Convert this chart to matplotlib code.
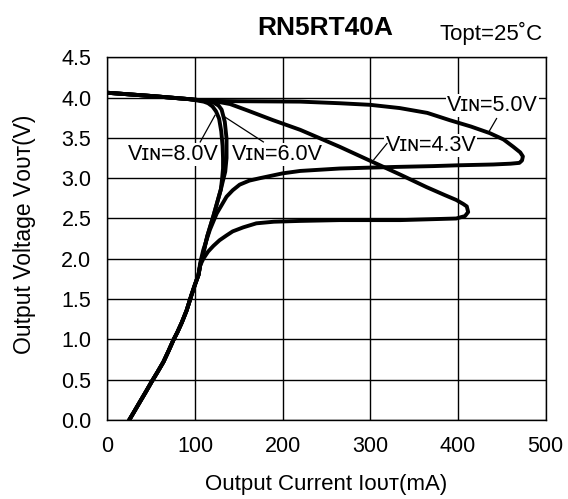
import matplotlib
matplotlib.use("Agg")
import matplotlib.pyplot as plt

plt.rcParams['font.family'] = ['Liberation Sans', 'DejaVu Sans']

# VIN = 8.0V
i_80 = [0, 50, 94, 110, 115, 120, 124, 127.5, 130, 131.5, 132, 132, 131, 129.5,
        121, 114, 109.5, 106, 104, 100, 96, 90.5, 85, 80, 75.3, 70, 64, 57, 50.6, 44, 37.3, 31, 25]
v_80 = [4.06, 4.02, 3.98, 3.95, 3.93, 3.89, 3.83, 3.74, 3.58, 3.40, 3.25, 3.12, 3.0, 2.86,
        2.53, 2.28, 2.07, 1.92, 1.8, 1.68, 1.55, 1.36, 1.21, 1.09, 0.99, 0.86, 0.72, 0.59, 0.475, 0.35, 0.227, 0.11, 0.0]

# VIN = 6.0V
i_60 = [0, 50, 94, 113, 121, 127, 130.4, 134, 136, 136, 134.5, 131.5, 129.5,
        121, 114, 109.5, 106, 104, 100, 96, 90.5, 85, 80, 75.3, 70, 64, 57, 50.6, 44, 37.3, 31, 25]
v_60 = [4.06, 4.02, 3.98, 3.96, 3.94, 3.9, 3.85, 3.70, 3.49, 3.25, 3.08, 2.95, 2.86,
        2.53, 2.28, 2.07, 1.92, 1.8, 1.68, 1.55, 1.36, 1.21, 1.09, 0.99, 0.86, 0.72, 0.59, 0.475, 0.35, 0.227, 0.11, 0.0]

# VIN = 5.0V
i_50 = [0, 50, 94, 113, 150, 220, 265, 300, 333.5, 365, 390.5, 415, 436, 452, 463, 471,
        474, 473, 470, 460, 440, 400, 371.7, 330, 295.8, 265, 220, 200, 174, 162, 151,
        143, 136, 124.7, 117, 109.5, 106, 104, 100, 96, 90.5, 85, 80, 75.3, 70, 64, 57, 50.6, 44, 37.3, 31, 25]
v_50 = [4.06, 4.02, 3.98, 3.96, 3.955, 3.95, 3.93, 3.91, 3.87, 3.81, 3.72, 3.64, 3.56, 3.48, 3.39, 3.32,
        3.27, 3.22, 3.19, 3.18, 3.17, 3.16, 3.15, 3.14, 3.13, 3.12, 3.09, 3.06, 3.0, 2.97, 2.92,
        2.85, 2.77, 2.56, 2.36, 2.11, 1.95, 1.8, 1.68, 1.55, 1.36, 1.21, 1.09, 0.99, 0.86, 0.72, 0.59, 0.475, 0.35, 0.227, 0.11, 0.0]

# VIN = 4.3V
i_43 = [0, 50, 94, 113, 125, 140, 160, 189, 220, 265, 303, 335, 364, 385, 398, 406, 410,
        411.6, 408, 398, 334, 265, 220, 190, 170, 155, 143, 136, 128, 121, 115, 109.5, 106,
        104, 100, 96, 90.5, 85, 80, 75.3, 70, 64, 57, 50.6, 44, 37.3, 31, 25]
v_43 = [4.06, 4.02, 3.98, 3.96, 3.95, 3.92, 3.84, 3.72, 3.60, 3.39, 3.20, 3.04, 2.89, 2.79, 2.73, 2.68, 2.65,
        2.58, 2.53, 2.50, 2.48, 2.48, 2.47, 2.46, 2.44, 2.39, 2.34, 2.29, 2.23, 2.16, 2.09, 2.0, 1.92,
        1.8, 1.68, 1.55, 1.36, 1.21, 1.09, 0.99, 0.86, 0.72, 0.59, 0.475, 0.35, 0.227, 0.11, 0.0]

x_ticks = [0, 100, 200, 300, 400, 500]
y_ticks = [0.0, 0.5, 1.0, 1.5, 2.0, 2.5, 3.0, 3.5, 4.0, 4.5]

fig = plt.figure(figsize=(5.68, 4.99), dpi=100)
ax = fig.add_axes([0.1889, 0.1583, 0.7718, 0.7269])

for xs, ys in [(i_80, v_80), (i_60, v_60), (i_50, v_50), (i_43, v_43)]:
    ax.plot(xs, ys, color='black', lw=2.8, solid_joinstyle='round', solid_capstyle='round', zorder=3)

# labels with leader lines: text, text position, leader start, leader end
labels = [
    ("V\u026a\u0274=8.0V", (75, 3.29), (106, 3.45), (122.8, 3.78)),
    ("V\u026a\u0274=6.0V", (194, 3.29), (178, 3.45), (134, 3.76)),
    ("V\u026a\u0274=5.0V", (439, 3.90), (444, 3.74), (434.4, 3.56)),
    ("V\u026a\u0274=4.3V", (369, 3.41), (319, 3.43), (304, 3.23)),
]
for txt, pos, p0, p1 in labels:
    ax.text(pos[0], pos[1], txt, ha='center', va='center', fontsize=15.5, zorder=4,
            bbox=dict(facecolor='white', edgecolor='none', pad=0.8))
    ax.plot([p0[0], p1[0]], [p0[1], p1[1]], color='black', lw=0.9, zorder=4)

ax.set_xlim(0, 500)
ax.set_ylim(0, 4.5)
ax.set_xticks(x_ticks)
ax.set_yticks(y_ticks)
ax.set_xticklabels([str(v) for v in x_ticks])
ax.set_yticklabels(['%.1f' % v for v in y_ticks])
ax.tick_params(length=0, labelsize=15.5, pad=11.5)
ax.grid(True, color='black', lw=1.0, zorder=1)
ax.set_axisbelow(True)
for s in ax.spines.values():
    s.set_linewidth(1.0)

fig.text(0.575, 0.018, "Output Current I\u1d0f\u1d1c\u1d1b(mA)", ha='center', va='baseline', fontsize=16)
fig.text(0.043, 0.531, "Output Voltage V\u1d0f\u1d1c\u1d1b(V)", ha='center', va='center', rotation=90, fontsize=16.5)
fig.text(0.573, 0.93, "RN5RT40A", ha='center', va='baseline', fontsize=19, fontweight='bold')
fig.text(0.956, 0.92, "Topt=25\u02daC", ha='right', va='baseline', fontsize=16)

fig.savefig('out.png', dpi=100)
